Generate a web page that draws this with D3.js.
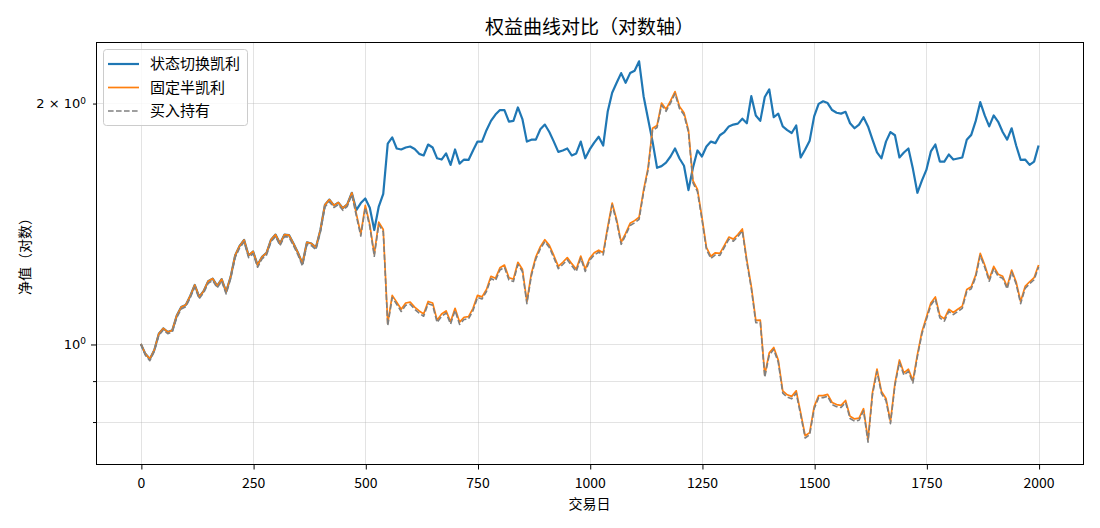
<!DOCTYPE html>
<html>
<head>
<meta charset="utf-8">
<script src="https://cdn.jsdelivr.net/npm/d3@7"></script>
<style>
  body { margin: 0; background: #fff; }
  text { font-family: "Noto Sans CJK SC", "DejaVu Sans", sans-serif; }
</style>
</head>
<body>
<div id="chart"></div>
<script>
// trading day of each sample (every 10 days)
var days = d3.range(0, 2001, 10);

// 状态切换凯利
var stateKelly = [
  1.000,0.972,0.958,0.983,1.030,1.046,1.035,1.040,1.085,1.112,
  1.119,1.148,1.185,1.145,1.165,1.198,1.207,1.182,1.205,1.162,
  1.213,1.290,1.326,1.349,1.290,1.305,1.255,1.285,1.300,1.350,
  1.370,1.335,1.370,1.368,1.335,1.300,1.260,1.340,1.335,1.320,
  1.388,1.492,1.515,1.490,1.502,1.478,1.495,1.545,1.470,1.500,
  1.520,1.480,1.388,1.485,1.540,1.780,1.812,1.755,1.750,1.760,
  1.765,1.752,1.728,1.720,1.775,1.760,1.706,1.700,1.730,1.674,
  1.750,1.680,1.700,1.698,1.745,1.790,1.790,1.850,1.900,1.935,
  1.960,1.960,1.896,1.900,1.975,1.910,1.790,1.800,1.800,1.855,
  1.880,1.840,1.790,1.738,1.745,1.755,1.720,1.730,1.790,1.706,
  1.750,1.785,1.815,1.770,1.950,2.060,2.120,2.180,2.120,2.180,
  2.195,2.255,2.040,1.910,1.790,1.660,1.668,1.685,1.715,1.755,
  1.705,1.670,1.557,1.660,1.745,1.715,1.765,1.790,1.782,1.823,
  1.840,1.870,1.880,1.885,1.912,1.887,2.040,1.930,1.900,2.035,
  2.080,1.920,1.940,1.870,1.850,1.835,1.875,1.710,1.750,1.795,
  1.925,1.995,2.010,2.000,1.960,1.945,1.940,1.950,1.887,1.860,
  1.880,1.920,1.870,1.800,1.735,1.706,1.790,1.840,1.823,1.710,
  1.735,1.755,1.655,1.545,1.600,1.650,1.740,1.775,1.690,1.690,
  1.725,1.700,1.705,1.710,1.800,1.825,1.900,2.005,1.930,1.870,
  1.930,1.895,1.840,1.800,1.860,1.770,1.698,1.700,1.674,1.690,
  1.770
];

// 固定半凯利
var fixedKelly = [
  1.000,0.972,0.958,0.983,1.030,1.046,1.035,1.040,1.085,1.112,
  1.119,1.148,1.185,1.145,1.165,1.198,1.207,1.182,1.205,1.162,
  1.213,1.290,1.326,1.349,1.290,1.305,1.255,1.285,1.300,1.350,
  1.370,1.335,1.370,1.368,1.335,1.300,1.260,1.340,1.335,1.320,
  1.388,1.492,1.515,1.490,1.502,1.478,1.495,1.545,1.455,1.372,
  1.490,1.410,1.295,1.420,1.390,1.061,1.150,1.128,1.105,1.125,
  1.128,1.112,1.100,1.090,1.130,1.125,1.071,1.090,1.100,1.066,
  1.108,1.065,1.080,1.082,1.108,1.150,1.145,1.170,1.215,1.208,
  1.245,1.255,1.210,1.205,1.265,1.240,1.130,1.225,1.285,1.323,
  1.350,1.328,1.290,1.250,1.265,1.282,1.260,1.240,1.288,1.240,
  1.280,1.300,1.310,1.300,1.400,1.500,1.430,1.340,1.375,1.415,
  1.426,1.440,1.557,1.660,1.860,1.875,2.000,1.965,2.012,2.067,
  1.980,1.945,1.850,1.600,1.560,1.440,1.320,1.287,1.300,1.298,
  1.328,1.360,1.352,1.370,1.392,1.273,1.180,1.070,1.071,0.915,
  0.975,0.990,0.955,0.874,0.864,0.860,0.874,0.820,0.768,0.775,
  0.835,0.862,0.862,0.865,0.845,0.840,0.838,0.850,0.812,0.806,
  0.808,0.830,0.759,0.870,0.930,0.872,0.855,0.800,0.893,0.955,
  0.920,0.930,0.900,0.970,1.035,1.080,1.125,1.145,1.085,1.075,
  1.105,1.095,1.105,1.115,1.170,1.179,1.220,1.298,1.255,1.205,
  1.250,1.222,1.215,1.179,1.237,1.195,1.130,1.180,1.196,1.210,
  1.255
];

// 买入持有
var buyHold = [
  1.000,0.968,0.953,0.979,1.025,1.041,1.030,1.035,1.079,1.106,
  1.113,1.142,1.178,1.139,1.159,1.191,1.200,1.175,1.198,1.155,
  1.206,1.282,1.318,1.341,1.282,1.297,1.247,1.277,1.292,1.342,
  1.362,1.327,1.362,1.360,1.327,1.292,1.252,1.332,1.327,1.312,
  1.380,1.483,1.506,1.481,1.493,1.469,1.486,1.536,1.446,1.364,
  1.481,1.402,1.287,1.411,1.381,1.054,1.143,1.121,1.098,1.118,
  1.121,1.105,1.093,1.083,1.123,1.118,1.064,1.083,1.093,1.059,
  1.101,1.058,1.073,1.075,1.101,1.143,1.138,1.163,1.207,1.200,
  1.237,1.247,1.202,1.197,1.257,1.232,1.123,1.217,1.277,1.315,
  1.342,1.320,1.282,1.242,1.257,1.274,1.252,1.232,1.280,1.232,
  1.272,1.292,1.302,1.292,1.391,1.491,1.421,1.332,1.367,1.406,
  1.417,1.431,1.547,1.650,1.849,1.864,1.988,1.953,2.000,2.055,
  1.968,1.933,1.839,1.590,1.550,1.431,1.312,1.279,1.292,1.290,
  1.320,1.352,1.344,1.362,1.384,1.265,1.173,1.063,1.064,0.909,
  0.969,0.984,0.949,0.868,0.858,0.854,0.868,0.815,0.763,0.770,
  0.830,0.857,0.857,0.860,0.840,0.835,0.833,0.845,0.807,0.801,
  0.803,0.825,0.754,0.865,0.924,0.867,0.850,0.795,0.888,0.949,
  0.914,0.924,0.894,0.964,1.029,1.073,1.118,1.138,1.078,1.068,
  1.098,1.088,1.098,1.108,1.163,1.172,1.213,1.290,1.247,1.198,
  1.242,1.215,1.208,1.172,1.230,1.188,1.123,1.173,1.189,1.203,
  1.248
];

var seriesNames = ["状态切换凯利", "固定半凯利", "买入持有"];
var xTicks = [0, 250, 500, 750, 1000, 1250, 1500, 1750, 2000];
var yTicks = [0.8, 0.9, 1, 2];
var yLabelTicks = [1, 2];
var yLabelMantissa = ["10", "2 × 10"];

// set the dimensions and margins of the graph
var margin = {top: 42, right: 17, bottom: 64, left: 96},
    width = 1100 - margin.left - margin.right,
    height = 528 - margin.top - margin.bottom;

var root = d3.select("#chart")
  .append("svg")
    .attr("width", width + margin.left + margin.right)
    .attr("height", height + margin.top + margin.bottom)
    .style("background", "#fff");

var svg = root.append("g")
    .attr("transform", "translate(" + margin.left + "," + margin.top + ")");

var x = d3.scaleLinear()
  .domain([-99.95, 2098.95])
  .range([0, width]);

var y = d3.scaleLog()
  .domain([0.708, 2.384])
  .range([height, 0]);

// grid
var grid = svg.append("g");
grid.selectAll("vline")
  .data(xTicks)
  .enter().append("line")
    .attr("x1", function(d) { return Math.round(x(d)) + 0.5; })
    .attr("x2", function(d) { return Math.round(x(d)) + 0.5; })
    .attr("y1", 0)
    .attr("y2", height)
    .attr("stroke", "#b0b0b0")
    .attr("stroke-opacity", 0.35)
    .attr("stroke-width", 1);
grid.selectAll("hline")
  .data(yTicks)
  .enter().append("line")
    .attr("x1", 0)
    .attr("x2", width)
    .attr("y1", function(d) { return Math.round(y(d)) + 0.5; })
    .attr("y2", function(d) { return Math.round(y(d)) + 0.5; })
    .attr("stroke", "#b0b0b0")
    .attr("stroke-opacity", 0.35)
    .attr("stroke-width", 1);

// lines
var line = d3.line()
  .x(function(d, i) { return x(days[i]); })
  .y(function(d) { return y(d); });

var plot = svg.append("g");
plot.append("path")
  .datum(stateKelly)
  .attr("d", line)
  .attr("fill", "none")
  .attr("stroke", "#1f77b4")
  .attr("stroke-width", 2.2)
  .attr("stroke-linejoin", "round");
plot.append("path")
  .datum(fixedKelly)
  .attr("d", line)
  .attr("fill", "none")
  .attr("stroke", "#ff7f0e")
  .attr("stroke-width", 1.7)
  .attr("stroke-linejoin", "round");
plot.append("path")
  .datum(buyHold)
  .attr("d", line)
  .attr("fill", "none")
  .attr("stroke", "#808080")
  .attr("stroke-width", 1.6)
  .attr("stroke-dasharray", "5.6,2.4")
  .attr("stroke-linejoin", "round");

// frame
svg.append("rect")
  .attr("x", 0.5)
  .attr("y", 0.5)
  .attr("width", width)
  .attr("height", height)
  .attr("fill", "none")
  .attr("stroke", "#000")
  .attr("stroke-width", 1);

// X axis
var xAxis = svg.append("g")
  .attr("transform", "translate(0," + (height + 0.5) + ")")
  .call(d3.axisBottom(x).tickValues(xTicks).tickSize(5).tickFormat(d3.format("d")));
xAxis.select(".domain").remove();
xAxis.selectAll(".tick line")
  .attr("stroke", "#000")
  .attr("transform", "translate(0.5,0)");
xAxis.selectAll(".tick text")
  .attr("y", 14)
  .attr("dy", "0.71em")
  .attr("fill", "#000")
  .style("font-family", "'Liberation Sans Narrow', 'Noto Sans CJK SC', sans-serif")
  .style("font-size", "14px");

// Y axis (log)
var yAxis = svg.append("g")
  .call(d3.axisLeft(y).tickValues(yTicks).tickFormat(""));
yAxis.select(".domain").remove();
yAxis.selectAll(".tick line")
  .attr("stroke", "#000")
  .attr("transform", "translate(0,0.5)")
  .attr("x2", function(d) { return d === 1 ? -5 : -3; });
yAxis.selectAll(".tick text").remove();

var yLab = svg.append("g").selectAll("ylab")
  .data(yLabelTicks)
  .enter().append("text")
    .attr("x", -10)
    .attr("y", function(d) { return y(d); })
    .attr("dy", "0.35em")
    .attr("text-anchor", "end")
    .style("font-family", "'DejaVu Sans', sans-serif")
    .style("font-size", "13px")
    .attr("fill", "#000");
yLab.append("tspan")
  .text(function(d, i) { return yLabelMantissa[i]; });
yLab.append("tspan")
  .attr("dy", "-0.45em")
  .style("font-size", "9px")
  .text("0");

// title and axis labels
svg.append("text")
  .attr("x", width / 2)
  .attr("y", -8)
  .attr("text-anchor", "middle")
  .style("font-size", "19px")
  .attr("fill", "#000")
  .text("权益曲线对比（对数轴）");

svg.append("text")
  .attr("x", width / 2)
  .attr("y", height + 45)
  .attr("text-anchor", "middle")
  .style("font-size", "14px")
  .attr("fill", "#000")
  .text("交易日");

svg.append("text")
  .attr("transform", "translate(-66," + (height / 2) + ")rotate(-90)")
  .attr("text-anchor", "middle")
  .style("font-size", "14px")
  .attr("fill", "#000")
  .text("净值（对数）");

// legend
var legend = svg.append("g")
  .attr("transform", "translate(7,7)");
legend.append("rect")
  .attr("x", 0.5)
  .attr("y", 0.5)
  .attr("width", 144)
  .attr("height", 76)
  .attr("rx", 3)
  .attr("fill", "#fff")
  .attr("fill-opacity", 0.8)
  .attr("stroke", "#cccccc")
  .attr("stroke-width", 1);

var legendStyles = [
  {color: "#1f77b4", w: 2.2, dash: null},
  {color: "#ff7f0e", w: 1.7, dash: null},
  {color: "#808080", w: 1.6, dash: "5.6,2.4"}
];
var rows = legend.selectAll("row")
  .data(seriesNames)
  .enter().append("g")
    .attr("transform", function(d, i) { return "translate(0," + (15 + i * 23.5) + ")"; });
rows.append("line")
  .attr("x1", 5)
  .attr("x2", 36)
  .attr("y1", 0)
  .attr("y2", 0)
  .attr("stroke", function(d, i) { return legendStyles[i].color; })
  .attr("stroke-width", function(d, i) { return legendStyles[i].w; })
  .attr("stroke-dasharray", function(d, i) { return legendStyles[i].dash; });
rows.append("text")
  .attr("x", 47)
  .attr("y", 0)
  .attr("dy", "0.35em")
  .style("font-size", "15px")
  .attr("fill", "#000")
  .text(function(d) { return d; });
</script>
</body>
</html>
